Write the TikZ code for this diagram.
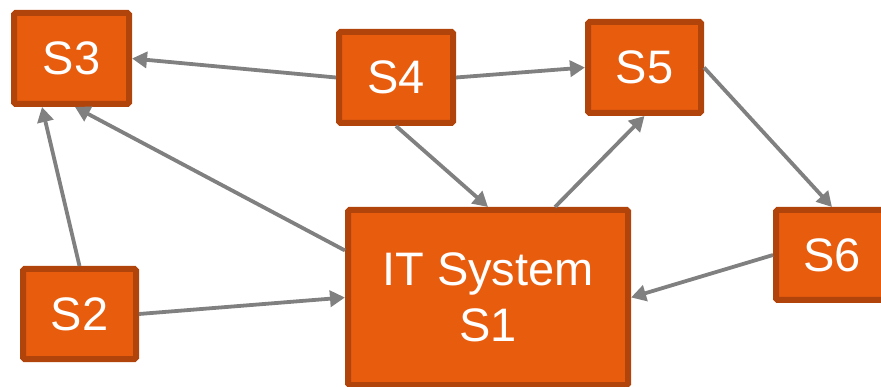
\documentclass[tikz,border=0pt]{standalone}
\usepackage{fontspec}
\setmainfont{Liberation Sans}
\usetikzlibrary{arrows.meta}
\definecolor{boxfill}{RGB}{232,92,14}
\definecolor{boxline}{RGB}{176,68,10}
\definecolor{arrowgray}{RGB}{128,128,128}
\begin{document}
\begin{tikzpicture}[x=1pt,y=-1pt,
  sysbox/.style={draw=boxline, fill=boxfill, line width=6pt, rounded corners=1.5pt,
    text=white, font=\fontsize{47}{56}\selectfont, align=center, inner sep=0pt},
  link/.style={draw=arrowgray, line width=3.8pt, -{Triangle[length=15pt,width=16pt]}}]
\useasboundingbox (0,0) rectangle (881,387);
\clip (0,0) rectangle (881,387);
\node[sysbox, minimum width=115pt, minimum height=91pt] (S3) at (71.5,58.5) {S3};
\node[sysbox, minimum width=114pt, minimum height=91pt] (S4) at (396,77.5) {S4};
\node[sysbox, minimum width=113pt, minimum height=91pt] (S5) at (644.5,67.5) {S5};
\node[sysbox, minimum width=112pt, minimum height=90pt] (S6) at (832,255) {S6};
\node[sysbox, minimum width=113pt, minimum height=90pt] (S2) at (79.5,314) {S2};
\node[sysbox, minimum width=280pt, minimum height=175pt] (S1) at (488,297.5) {IT System\\S1};
\draw[link] (S4.west) -- (S3.east);
\draw[link] (S4.east) -- (S5.west);
\draw[link] (S4.south) -- (S1.north);
\draw[link] ([xshift=67pt]S1.north) -- (S5.south);
\draw[link] (S5.east) -- (S6.north);
\draw[link] (S6.west) -- (S1.east);
\draw[link] (S2.east) -- (S1.west);
\draw[link] (S2.north) -- ([xshift=-29.5pt]S3.south);
\draw[link] ([yshift=47pt]S1.west) -- ([xshift=3.5pt]S3.south);
\end{tikzpicture}
\end{document}
